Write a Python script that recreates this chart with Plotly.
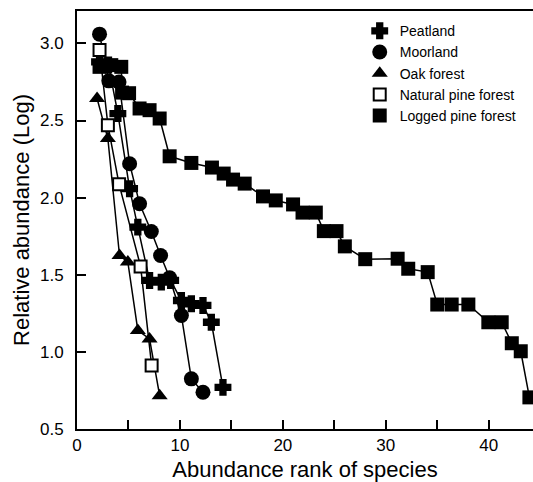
import plotly.graph_objects as go

# ---- data ----
peat_x = [2.19, 3.06, 3.97, 5.11, 5.91, 7.05, 8.19, 9.10, 10.14, 11.11, 12.24, 13.05, 14.18]
peat_y = [2.88, 2.86, 2.545, 2.058, 1.809, 1.463, 1.452, 1.463, 1.333, 1.312, 1.301, 1.192, 0.770]

moor_x = [2.19, 3.09, 4.08, 5.11, 6.08, 7.22, 8.12, 9.00, 10.14, 11.11, 12.24]
moor_y = [3.06, 2.757, 2.75, 2.22, 1.96, 1.78, 1.625, 1.48, 1.236, 0.825, 0.738]

oak_x = [1.95, 3.00, 4.13, 4.94, 5.91, 7.05, 8.03]
oak_y = [2.643, 2.383, 1.625, 1.582, 1.139, 1.084, 0.716]

npine_x = [2.19, 3.00, 4.09, 6.18, 7.25]
npine_y = [2.957, 2.47, 2.086, 1.554, 0.911]

lpine_x = [2.19, 3.33, 4.30, 4.38, 5.06, 6.08, 7.05, 8.03, 9.00, 11.11, 13.11, 14.25,
           15.16, 16.29, 18.07, 19.31, 20.99, 21.91, 23.20, 23.98, 25.21, 26.02, 28.00,
           31.15, 32.18, 34.07, 35.00, 36.40, 38.02, 39.96, 41.26, 42.24, 43.11, 43.95]
lpine_y = [2.848, 2.859, 2.848, 2.681, 2.677, 2.578, 2.567, 2.513, 2.268, 2.225, 2.195, 2.156,
           2.117, 2.091, 2.008, 1.982, 1.956, 1.903, 1.903, 1.783, 1.783, 1.684, 1.601,
           1.604, 1.539, 1.517, 1.307, 1.307, 1.307, 1.192, 1.192, 1.056, 1.004, 0.705]

series_names = ["Peatland", "Moorland", "Oak forest", "Natural pine forest", "Logged pine forest"]
x_tickvals = [0, 5, 10, 15, 20, 25, 30, 35, 40]
x_ticktext = ["0", "", "10", "", "20", "", "30", "", "40"]
y_tickvals = [0.5, 1.0, 1.5, 2.0, 2.5, 3.0]
y_ticktext = ["0.5", "1.0", "1.5", "2.0", "2.5", "3.0"]

FONT = "Liberation Sans, Arial, sans-serif"

styles = [
    dict(symbol="cross", size=12, color="black", line=dict(color="black", width=2.5)),
    dict(symbol="circle", size=15, color="black", line=dict(color="black", width=0)),
    dict(symbol="triangle-up", size=14, color="black", line=dict(color="black", width=0)),
    dict(symbol="square", size=12, color="white", line=dict(color="black", width=2)),
    dict(symbol="square", size=14, color="black", line=dict(color="black", width=0)),
]
data = [(peat_x, peat_y), (moor_x, moor_y), (oak_x, oak_y), (npine_x, npine_y), (lpine_x, lpine_y)]

fig = go.Figure()
# draw logged pine first so the smaller series sit on top
order = [4, 0, 1, 2, 3]
for i in order:
    xs, ys = data[i]
    fig.add_trace(go.Scatter(x=xs, y=ys, mode="lines+markers", showlegend=False,
                             line=dict(color="black", width=1.5),
                             marker=styles[i], cliponaxis=False))
for i in range(5):
    fig.add_trace(go.Scatter(x=[None], y=[None], mode="markers", name=series_names[i],
                             marker=styles[i]))

fig.update_layout(
    width=533, height=482,
    margin=dict(l=77, r=0, t=11, b=53, autoexpand=False),
    paper_bgcolor="white", plot_bgcolor="white",
    font=dict(family=FONT, color="black"),
    showlegend=True,
    legend=dict(x=0.62, y=0.99, xanchor="left", yanchor="top",
                font=dict(size=14, family=FONT), bgcolor="rgba(0,0,0,0)",
                itemwidth=30, tracegroupgap=0),
    xaxis=dict(range=[0, 44.3], tickvals=x_tickvals, ticktext=x_ticktext,
               ticks="inside", ticklen=9, tickwidth=2, tickcolor="black",
               showline=True, linecolor="black", linewidth=2, mirror=True,
               showgrid=False, zeroline=False, automargin=False,
               tickfont=dict(size=17),
               title=dict(text="Abundance rank of species", font=dict(size=22), standoff=10)),
    yaxis=dict(range=[0.5, 3.21], tickvals=y_tickvals, ticktext=y_ticktext,
               ticks="inside", ticklen=9, tickwidth=2, tickcolor="black",
               showline=True, linecolor="black", linewidth=2,
               showgrid=False, zeroline=False, automargin=False,
               tickfont=dict(size=17), ticklabelstandoff=8,
               title=dict(text="Relative abundance (Log)", font=dict(size=22), standoff=4)),
)

fig.write_html("out.html")
